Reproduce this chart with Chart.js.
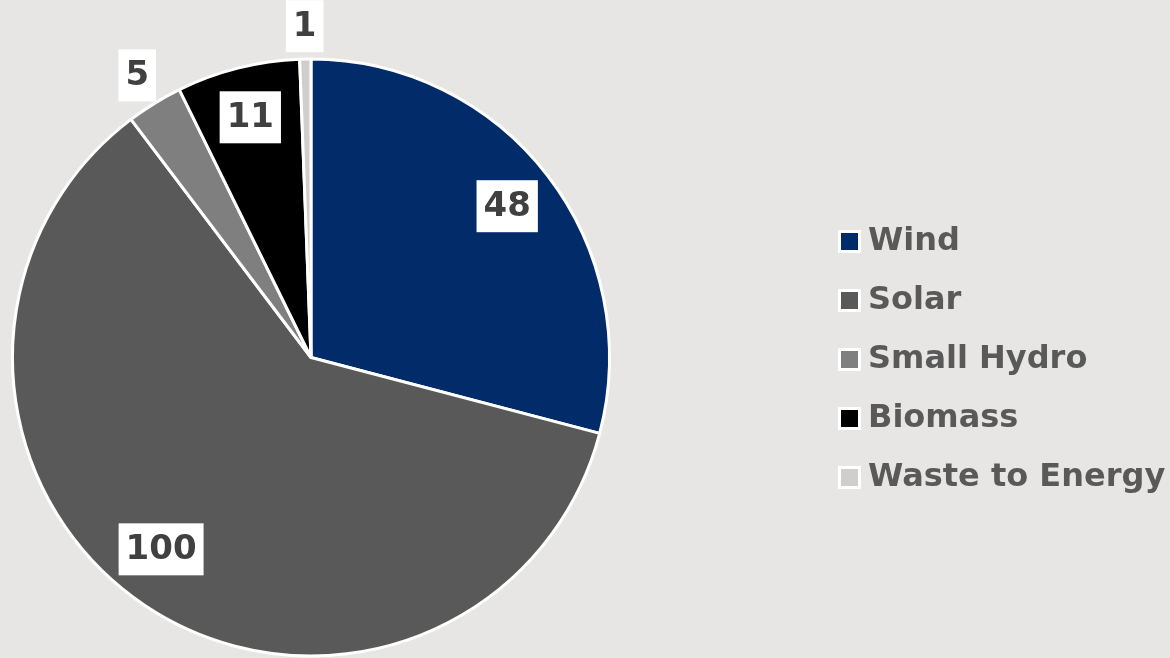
<!DOCTYPE html>
<html>
<head>
<meta charset="utf-8">
<script src="https://cdn.jsdelivr.net/npm/chart.js@4/dist/chart.umd.min.js"></script>
<style>
  body { margin: 0; background: #E7E6E4; }
  #wrap { width: 1170px; height: 658px; position: relative; }
</style>
</head>
<body>
<div id="wrap"><canvas id="Cnvs1"></canvas></div>
<script>
var categories = ['Wind', 'Solar', 'Small Hydro', 'Biomass', 'Waste to Energy'];
var capacity = [48, 100, 5, 11, 1];
var sliceColors = ['#012C69', '#595959', '#7F7F7F', '#000000', '#D0CECB'];

var legendFont = 'bold 32px "DejaVu Sans", Lato, sans-serif';
var valueFont = 'bold 34px "DejaVu Sans", Lato, sans-serif';

// value labels in white boxes, small slices go outside the pie
var boxLabels = {
  id: 'boxLabels',
  afterDatasetsDraw: function(chart) {
    var ctx = chart.ctx;
    var meta = chart.getDatasetMeta(0);
    ctx.save();
    ctx.font = valueFont;
    ctx.textAlign = 'center';
    ctx.textBaseline = 'middle';
    meta.data.forEach(function(arc, i) {
      var p = arc.getProps(['x', 'y', 'startAngle', 'endAngle', 'outerRadius']);
      var mid = (p.startAngle + p.endAngle) / 2;
      var span = p.endAngle - p.startAngle;
      var k = span < 0.25 ? 1.11 : 0.83;
      var cx = p.x + Math.cos(mid) * p.outerRadius * k;
      var cy = p.y + Math.sin(mid) * p.outerRadius * k;
      if (span > 3) { cx -= 12; cy -= 14; }
      var txt = String(capacity[i]);
      var w = ctx.measureText(txt).width + 14;
      var h = 52;
      ctx.fillStyle = '#FFFFFF';
      ctx.fillRect(cx - w / 2, cy - h / 2, w, h);
      ctx.fillStyle = '#404040';
      ctx.fillText(txt, cx, cy + 1);
    });
    ctx.restore();
  }
};

// legend on the right, drawn by hand
var sideLegend = {
  id: 'sideLegend',
  afterDraw: function(chart) {
    var ctx = chart.ctx;
    ctx.save();
    ctx.font = legendFont;
    ctx.textBaseline = 'middle';
    for (var i = 0; i < categories.length; i++) {
      var y = 241 + i * 59;
      ctx.fillStyle = '#FFFFFF';
      ctx.fillRect(838, y - 11, 23, 23);
      ctx.fillStyle = sliceColors[i];
      ctx.fillRect(841, y - 8, 17, 17);
      ctx.fillStyle = '#595959';
      ctx.fillText(categories[i], 868, y + 1);
    }
    ctx.restore();
  }
};

var Cnvs = document.getElementById('Cnvs1').getContext('2d');
var pieChart = new Chart(Cnvs, {
  type: 'pie',
  data: {
    labels: categories,
    datasets: [{
      data: capacity,
      backgroundColor: sliceColors,
      borderColor: '#FFFFFF',
      borderWidth: 3
    }]
  },
  options: {
    responsive: true,
    maintainAspectRatio: false,
    animation: false,
    layout: { padding: { left: 11, right: 559, top: 57, bottom: 0 } },
    plugins: {
      legend: { display: false },
      tooltip: { enabled: false }
    }
  },
  plugins: [boxLabels, sideLegend]
});
</script>
</body>
</html>
